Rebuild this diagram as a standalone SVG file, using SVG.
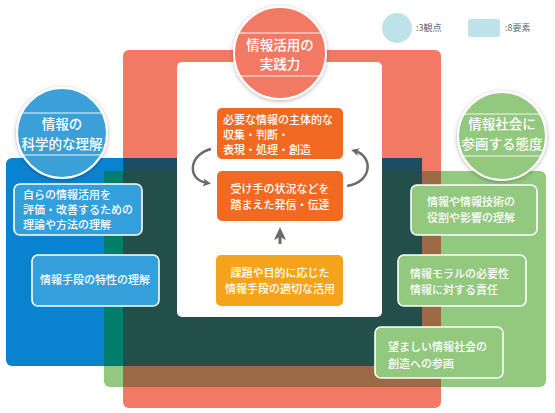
<svg xmlns="http://www.w3.org/2000/svg" width="555" height="413" viewBox="0 0 555 413">
<defs>
<style>
text{font-family:"Noto Sans CJK JP","Noto Sans",sans-serif;fill:#fff;font-weight:500;}
.lab{font-size:13.5px;text-anchor:middle;}
.bx{font-size:11px;}
.mid{text-anchor:middle;}
.leg{font-size:9px;fill:#666;font-weight:normal;}
.ring{stroke:#fff;stroke-width:2;filter:url(#sh);}
.chord{stroke:#fff;stroke-width:1;opacity:0.9;}
.wb{stroke:#fff;stroke-width:1.6;}
.arr{fill:none;stroke:#6b6b6b;stroke-width:2.5;}
</style>
<filter id="sh" x="-20%" y="-20%" width="140%" height="140%">
<feDropShadow dx="0" dy="1" stdDeviation="2" flood-color="#000" flood-opacity="0.3"/>
</filter>
<marker id="ah" markerWidth="8" markerHeight="8" refX="4" refY="4" orient="auto" markerUnits="userSpaceOnUse" viewBox="0 0 8 8">
<path d="M0,0 L8,4 L0,8 L2,4 Z" fill="#6b6b6b"/>
</marker>
</defs>

<g id="legend">
<circle cx="397" cy="28" r="15" fill="#bde3e8"/>
<text class="leg" x="416" y="31">:3観点</text>
<rect x="468" y="19" width="32" height="18" rx="3" fill="#bde3e8"/>
<text class="leg" x="505" y="31">:8要素</text>
</g>

<g id="areas">
<rect x="123" y="50" width="318" height="358" rx="6" fill="#f27a65"/>
<rect x="6" y="158" width="416" height="208" rx="6" fill="#0a83cf"/>
<rect x="104" y="171" width="442" height="216" rx="6" fill="#93c87f"/>
<rect x="123" y="158" width="299" height="208" fill="#1d4d63"/>
<rect x="104" y="171" width="318" height="195" fill="#007e6b"/>
<rect x="123" y="171" width="318" height="216" fill="#9b6944"/>
<rect x="123" y="171" width="299" height="195" fill="#234f4b"/>
<rect x="177" y="62" width="205" height="255" rx="5" fill="#fff"/>
</g>

<g id="viewpoint-practice">
<circle class="ring" cx="280" cy="53" r="46" fill="#f27a65"/>
<line class="chord" x1="239" y1="33" x2="321" y2="33"/>
<line class="chord" x1="240" y1="76" x2="320" y2="76"/>
<text class="lab" x="280" y="50">情報活用の</text>
<text class="lab" x="280" y="69">実践力</text>
</g>

<g id="viewpoint-science">
<circle class="ring" cx="62" cy="133" r="45" fill="#3a9fd8"/>
<line class="chord" x1="22" y1="113" x2="102" y2="113"/>
<line class="chord" x1="23" y1="155" x2="101" y2="155"/>
<text class="lab" x="62" y="129">情報の</text>
<text class="lab" x="62" y="149">科学的な理解</text>
</g>

<g id="viewpoint-society">
<circle class="ring" cx="502" cy="136" r="44" fill="#93c87f"/>
<line class="chord" x1="464" y1="114" x2="540" y2="114"/>
<line class="chord" x1="463" y1="156" x2="541" y2="156"/>
<text class="lab" x="502" y="129">情報社会に</text>
<text class="lab" x="502" y="149">参画する態度</text>
</g>

<g id="connectors">
<path class="arr" d="M211,149 C188,155 187,180 207,183" marker-end="url(#ah)"/>
<path class="arr" d="M347,186 C373,182 373,156 355,151" marker-end="url(#ah)"/>
<line x1="280" y1="244" x2="280" y2="234" stroke="#6b6b6b" stroke-width="3"/>
<path d="M280,227 L286,240 L280,237 L274,240 Z" fill="#6b6b6b"/>
</g>

<g id="el-collect">
<rect x="217" y="108" width="126" height="51" rx="5" fill="#f26a22"/>
<text class="bx" x="223" y="124">必要な情報の主体的な</text>
<text class="bx" x="223" y="139">収集・判断・</text>
<text class="bx" x="223" y="154">表現・処理・創造</text>
</g>

<g id="el-transmit">
<rect x="217" y="171" width="126" height="50" rx="5" fill="#f26a22"/>
<text class="bx mid" x="280" y="193">受け手の状況などを</text>
<text class="bx mid" x="280" y="209">踏まえた発信・伝達</text>
</g>

<g id="el-means">
<rect x="216" y="255" width="127" height="51" rx="5" fill="#f5a31a"/>
<text class="bx mid" x="280" y="277">課題や目的に応じた</text>
<text class="bx mid" x="280" y="293">情報手段の適切な活用</text>
</g>

<g id="el-evaluate">
<rect class="wb" x="14" y="184" width="128" height="51" rx="6" fill="#33a0dc"/>
<text class="bx" x="23" y="199">自らの情報活用を</text>
<text class="bx" x="23" y="214">評価・改善するための</text>
<text class="bx" x="23" y="229">理論や方法の理解</text>
</g>

<g id="el-characteristics">
<rect class="wb" x="32" y="255" width="127" height="51" rx="6" fill="#33a0dc"/>
<text class="bx mid" x="95" y="284">情報手段の特性の理解</text>
</g>

<g id="el-role">
<rect class="wb" x="411" y="185" width="126" height="50" rx="6" fill="#93c87f"/>
<text class="bx" x="427" y="206">情報や情報技術の</text>
<text class="bx" x="427" y="222">役割や影響の理解</text>
</g>

<g id="el-moral">
<rect class="wb" x="398" y="255" width="128" height="51" rx="6" fill="#93c87f"/>
<text class="bx" x="410" y="278">情報モラルの必要性</text>
<text class="bx" x="410" y="294">情報に対する責任</text>
</g>

<g id="el-participate">
<rect class="wb" x="375" y="327" width="128" height="51" rx="6" fill="#93c87f"/>
<text class="bx" x="388" y="351">望ましい情報社会の</text>
<text class="bx" x="388" y="368">創造への参画</text>
</g>
</svg>
